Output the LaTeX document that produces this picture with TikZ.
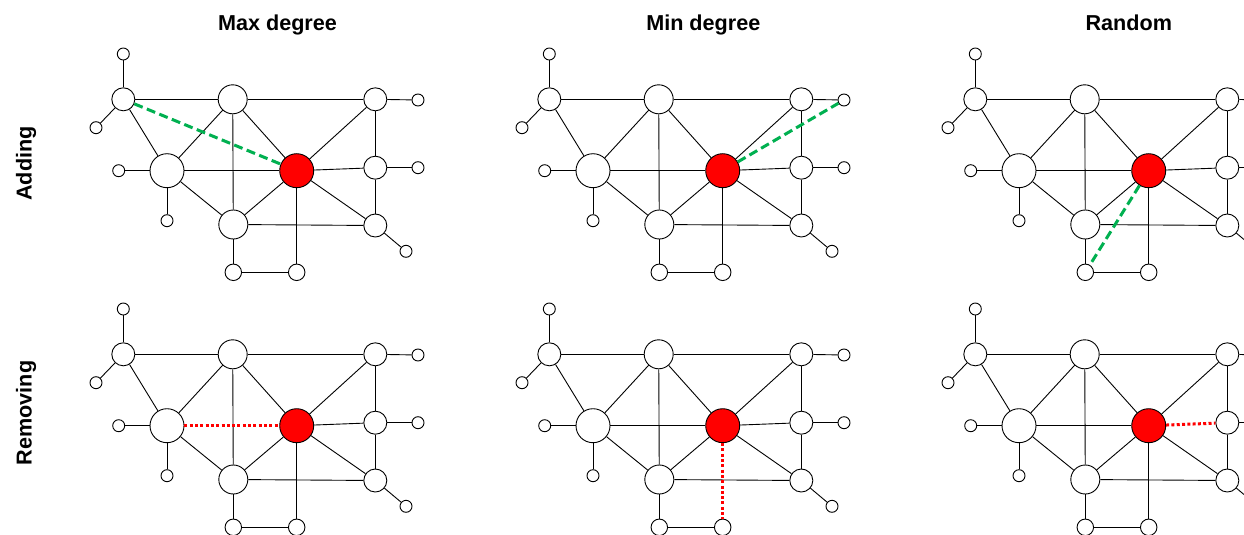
\documentclass[tikz,border=0pt]{standalone}
\usepackage{fontspec}
\setmainfont{Liberation Sans}
\begin{document}
\begin{tikzpicture}[x=1pt,y=-1pt,
  nd/.style={circle,draw=black,fill=white,line width=0.9pt,inner sep=0pt},
  leaf/.style={nd,minimum size=12pt},
  bot/.style={nd,minimum size=16.5pt},
  mid/.style={nd,minimum size=23pt},
  big/.style={nd,minimum size=29pt},
  huge/.style={nd,minimum size=34pt},
  hub/.style={huge,fill=red},
  edge/.style={draw=black,line width=0.9pt},
  added/.style={draw={rgb,255:red,0;green,176;blue,80},line width=3pt,dash pattern=on 9pt off 4.5pt},
  removed/.style={draw=red,line width=3pt,dash pattern=on 3pt off 2.3pt},
  title/.style={font=\fontsize{21.6}{26}\selectfont\bfseries,anchor=base},
  rowlabel/.style={font=\fontsize{21.6}{26}\selectfont\bfseries,anchor=base,rotate=90}]
\clip (0,0) rectangle (1244,535);
\fill[white] (0,0) rectangle (1244,535);

\newcommand\panel[4]{%
  \begin{scope}[shift={(#2,#3)}]
    \node[leaf] (#1T)  at (123.3,54)    {};
    \node[mid]  (#1A)  at (123.3,99.3)  {};
    \node[leaf] (#1L1) at (96,127.7)    {};
    \node[big]  (#1B)  at (232.7,99.3)  {};
    \node[mid]  (#1C)  at (375.3,99.3)  {};
    \node[leaf] (#1L2) at (418,100)     {};
    \node[huge] (#1D)  at (167,170.7)   {};
    \node[leaf] (#1L3) at (118.7,170.7) {};
    \node[leaf] (#1L4) at (167,220.7)   {};
    \node[hub]  (#1R)  at (296.7,170.7) {};
    \node[mid]  (#1E)  at (375.3,167.7) {};
    \node[leaf] (#1L5) at (418,167.7)   {};
    \node[big]  (#1F)  at (233.3,224.5) {};
    \node[mid]  (#1G)  at (375.3,225.5) {};
    \node[leaf] (#1L6) at (406,251.3)   {};
    \node[bot]  (#1P1) at (233.3,272.3) {};
    \node[bot]  (#1P2) at (296.7,272.3) {};
  \end{scope}
  \def\pskip{#4}%
  \foreach \u/\v in {T/A,A/L1,A/B,A/D,B/C,B/D,B/F,B/R,C/L2,C/R,C/E,D/L3,D/L4,D/R,D/F,R/E,R/F,R/G,R/P2,E/L5,E/G,F/G,F/P1,P1/P2,G/L6}{%
    \edef\pcur{\u/\v}%
    \ifx\pcur\pskip\else\draw[edge] (#1\u) -- (#1\v);\fi
  }%
}

% top row: adding
\panel{a}{0}{0}{none}
\panel{b}{426}{0}{none}
\panel{c}{852}{0}{none}
\draw[added] (aA) -- (aR);
\draw[added] (bR) -- (bL2);
\draw[added] (cR) -- (cP1);

% bottom row: removing
\panel{d}{0}{255}{D/R}
\panel{e}{426}{255}{R/P2}
\panel{f}{852}{255}{R/E}
\draw[removed] (dD) -- (dR);
\draw[removed] (eR) -- (eP2);
\draw[removed] (fR) -- (fE);

% labels
\node[title] (t1) at (277.5,30.3) {Max degree};
\node[title] (t2) at (703.3,30.3) {Min degree};
\node[title] (t3) at (1128.8,30.3) {Random};
\node[rowlabel] (r1) at (31.5,163.5) {Adding};
\node[rowlabel] (r2) at (31.5,413) {Removing};
\end{tikzpicture}
\end{document}
